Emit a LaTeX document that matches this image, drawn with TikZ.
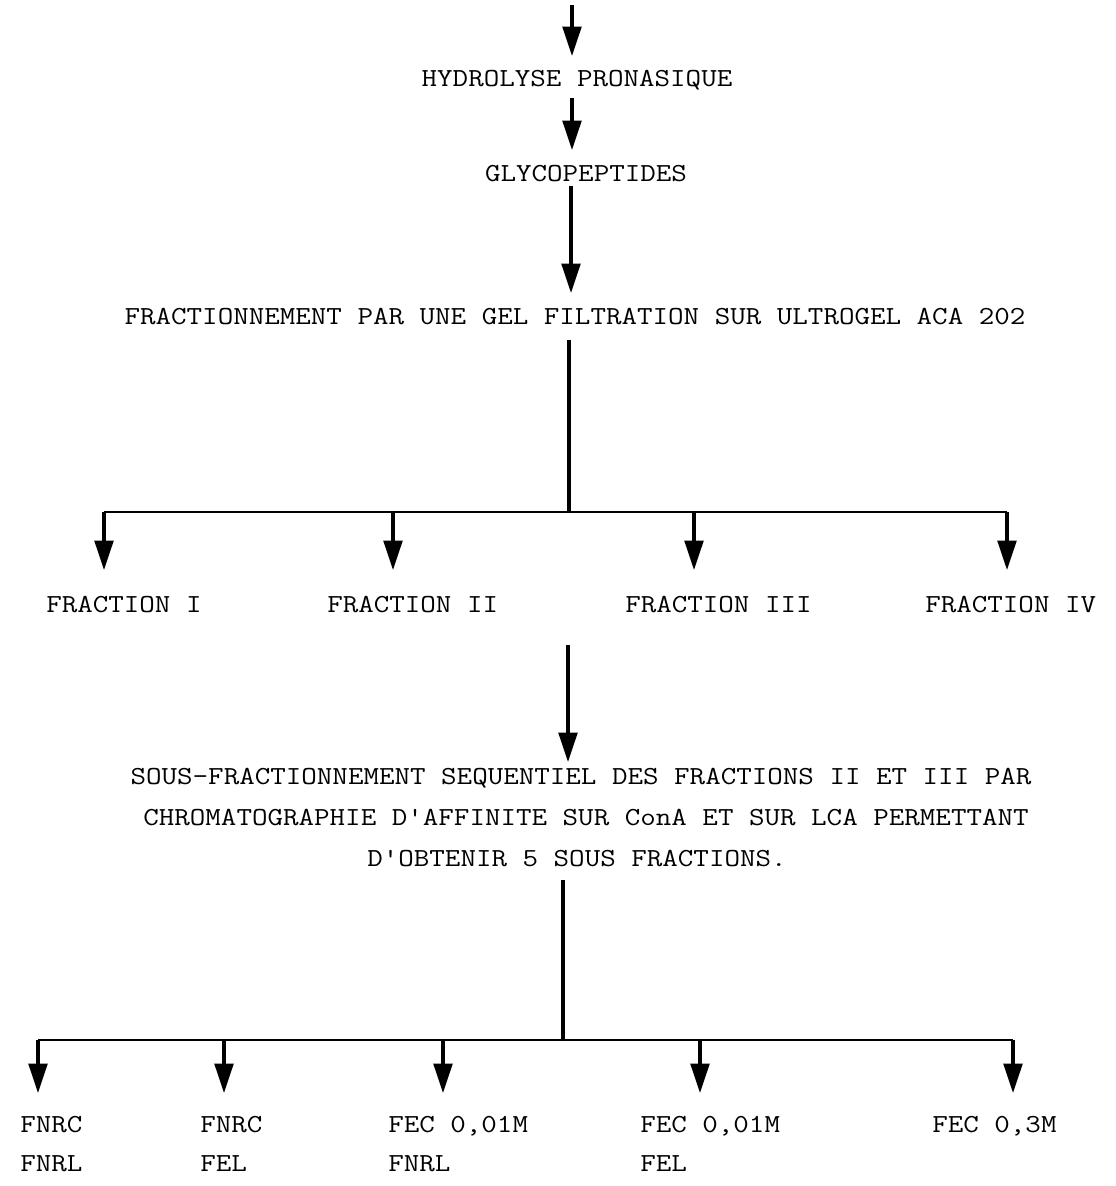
\documentclass[tikz,border=0pt]{standalone}
\usepackage{graphicx}
\usetikzlibrary{arrows.meta}
\newcommand\tw[1]{\scalebox{1.16}[1]{#1}}
\tikzset{
  lbl/.style={font=\ttfamily\fontsize{19.5}{19.5}\selectfont, inner sep=0pt, text height=12pt, text depth=0pt},
  arr/.style={line width=2.4pt, -{Triangle[length=22pt,width=14pt]}},
  ln/.style={line width=2.4pt},
  bar/.style={line width=2.2pt},
}
\begin{document}
\begin{tikzpicture}[x=0.75pt,y=-0.75pt]
\useasboundingbox (0,0) rectangle (1115,1186);
% texts
\node[lbl] (hyd) at (577,78) {\tw{HYDROLYSE PRONASIQUE}};
\node[lbl] (gly) at (586,173) {\tw{GLYCOPEPTIDES}};
\node[lbl] (frac) at (575,316) {\tw{FRACTIONNEMENT PAR UNE GEL FILTRATION SUR ULTROGEL ACA 202}};
\node[lbl,anchor=west] (f1) at (46,604) {\tw{FRACTION I}};
\node[lbl,anchor=west] (f2) at (327,604) {\tw{FRACTION II}};
\node[lbl,anchor=west] (f3) at (625,604) {\tw{FRACTION III}};
\node[lbl,anchor=west] (f4) at (925,604) {\tw{FRACTION IV}};
\node[lbl] (s1) at (581,776) {\tw{SOUS-FRACTIONNEMENT SEQUENTIEL DES FRACTIONS II ET III PAR}};
\node[lbl] (s2) at (586,817) {\tw{CHROMATOGRAPHIE D'AFFINITE SUR ConA ET SUR LCA PERMETTANT}};
\node[lbl] (s3) at (577,858) {\tw{D'OBTENIR 5 SOUS FRACTIONS.}};
\node[lbl,anchor=west] (a1) at (20,1124) {\tw{FNRC}};
\node[lbl,anchor=west] (a2) at (20,1163) {\tw{FNRL}};
\node[lbl,anchor=west] (c1) at (200,1124) {\tw{FNRC}};
\node[lbl,anchor=west] (c2) at (200,1163) {\tw{FEL}};
\node[lbl,anchor=west] (d1) at (388,1124) {\tw{FEC 0,01M}};
\node[lbl,anchor=west] (d2) at (388,1163) {\tw{FNRL}};
\node[lbl,anchor=west] (e1) at (640,1124) {\tw{FEC 0,01M}};
\node[lbl,anchor=west] (e2) at (640,1163) {\tw{FEL}};
\node[lbl,anchor=west] (g1) at (932,1124) {\tw{FEC 0,3M}};
% connector end points
\coordinate (top) at (572,5);
\coordinate (t1) at (572,56);
\coordinate (h1) at (572,98);
\coordinate (h2) at (572,150);
\coordinate (g0) at (571,186);
\coordinate (g2) at (571,293);
\coordinate (p0) at (569,340);
\coordinate (b1) at (569,512);
\coordinate (b1l) at (104,512);
\coordinate (b1b) at (393,512);
\coordinate (b1c) at (694,512);
\coordinate (b1r) at (1007,512);
\coordinate (q0) at (568,645);
\coordinate (q1) at (568,762);
\coordinate (r0) at (563,880);
\coordinate (b2) at (563,1040);
\coordinate (b2l) at (38,1040);
\coordinate (b2b) at (224,1040);
\coordinate (b2c) at (443,1040);
\coordinate (b2d) at (700,1040);
\coordinate (b2r) at (1013,1040);
% top chain
\draw[arr] (top) -- (t1);
\draw[arr] (h1) -- (h2);
\draw[arr] (g0) -- (g2);
% first split
\draw[ln] (p0) -- (b1);
\draw[bar] (b1l) -- (b1r);
\draw[arr] (b1l) -- (b1l |- 0,570);
\draw[arr] (b1b) -- (b1b |- 0,570);
\draw[arr] (b1c) -- (b1c |- 0,570);
\draw[arr] (b1r) -- (b1r |- 0,570);
% sub fractionation
\draw[arr] (q0) -- (q1);
% second split
\draw[ln] (r0) -- (b2);
\draw[bar] (b2l) -- (b2r);
\draw[arr] (b2l) -- (b2l |- 0,1093);
\draw[arr] (b2b) -- (b2b |- 0,1093);
\draw[arr] (b2c) -- (b2c |- 0,1093);
\draw[arr] (b2d) -- (b2d |- 0,1093);
\draw[arr] (b2r) -- (b2r |- 0,1093);
\end{tikzpicture}
\end{document}
